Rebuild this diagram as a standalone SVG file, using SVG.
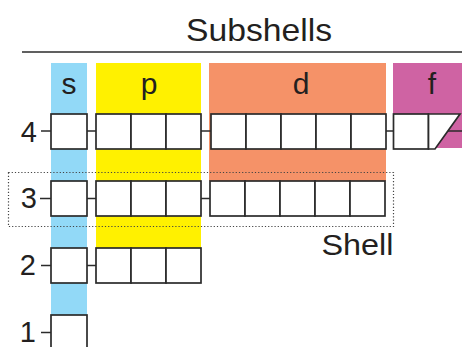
<svg xmlns="http://www.w3.org/2000/svg" width="462" height="347" viewBox="0 0 462 347">
<style>
.bx{fill:#fff;stroke:#2b2b2b;stroke-width:1.7}
.cn{stroke:#2b2b2b;stroke-width:1.5;fill:none}
.t{font-family:"Liberation Sans",Arial,sans-serif;fill:#231f20}
.num{font-size:29px;text-anchor:end}
.lab{font-size:30px;text-anchor:middle}
</style>
<rect width="462" height="347" fill="#fff"/>
<g id="header">
<text class="t" x="259" y="40.5" font-size="32" text-anchor="middle" textLength="146" lengthAdjust="spacingAndGlyphs">Subshells</text>
<line x1="22" y1="52" x2="462" y2="52" stroke="#2b2b2b" stroke-width="1.6"/>
</g>
<g id="col-s"><rect x="51" y="63" width="36" height="252" fill="#92d9f7"/><text class="t lab" x="69" y="94">s</text></g>
<g id="col-p"><rect x="96" y="63" width="105" height="185" fill="#fff100"/><text class="t lab" x="149" y="94">p</text></g>
<g id="col-d"><rect x="209" y="63" width="177" height="118" fill="#f59268"/><text class="t lab" x="301" y="94">d</text></g>
<g id="col-f"><rect x="393" y="63" width="69" height="85" fill="#cf63a3"/><text class="t lab" x="432" y="94">f</text></g>
<g id="shell-box">
<rect x="8.5" y="172.5" width="385" height="54" fill="none" stroke="#444" stroke-width="1.2" stroke-dasharray="1.2 2"/>
<text class="t" x="321.5" y="255" font-size="30" textLength="72" lengthAdjust="spacingAndGlyphs">Shell</text>
</g>
<g id="connectors">
<path class="cn" d="M41 131H51M87 131H96M201 131H211M386 131H393M448 131H462"/>
<path class="cn" d="M40 198.5H51M87 198.5H96M201 198.5H210"/>
<path class="cn" d="M41 265.5H51M87 265.5H96"/>
<path class="cn" d="M41 332.5H51"/>
</g>
<g id="row-4">
<text class="t num" x="37" y="141.5">4</text>
<rect class="bx" x="51" y="114" width="36" height="35"/>
<rect class="bx" x="96" y="114" width="35" height="35"/>
<rect class="bx" x="131" y="114" width="35" height="35"/>
<rect class="bx" x="166" y="114" width="35" height="35"/>
<rect class="bx" x="211" y="114" width="35" height="35"/>
<rect class="bx" x="246" y="114" width="35" height="35"/>
<rect class="bx" x="281" y="114" width="35" height="35"/>
<rect class="bx" x="316" y="114" width="35" height="35"/>
<rect class="bx" x="351" y="114" width="35" height="35"/>
<rect class="bx" x="393.5" y="114" width="35" height="35"/>
<path class="bx" d="M428.5 114H460L435 149H428.5Z"/>
</g>
<g id="row-3">
<text class="t num" x="37" y="208">3</text>
<rect class="bx" x="51" y="181" width="36" height="35"/>
<rect class="bx" x="96" y="181" width="35" height="35"/>
<rect class="bx" x="131" y="181" width="35" height="35"/>
<rect class="bx" x="166" y="181" width="35" height="35"/>
<rect class="bx" x="210" y="181" width="35" height="35"/>
<rect class="bx" x="245" y="181" width="35" height="35"/>
<rect class="bx" x="280" y="181" width="35" height="35"/>
<rect class="bx" x="315" y="181" width="35" height="35"/>
<rect class="bx" x="350" y="181" width="35" height="35"/>
</g>
<g id="row-2">
<text class="t num" x="36" y="275">2</text>
<rect class="bx" x="51" y="248" width="36" height="35"/>
<rect class="bx" x="96" y="248" width="35" height="35"/>
<rect class="bx" x="131" y="248" width="35" height="35"/>
<rect class="bx" x="166" y="248" width="35" height="35"/>
</g>
<g id="row-1">
<text class="t num" x="36" y="342">1</text>
<rect class="bx" x="51" y="315" width="36" height="40"/>
</g>
</svg>
